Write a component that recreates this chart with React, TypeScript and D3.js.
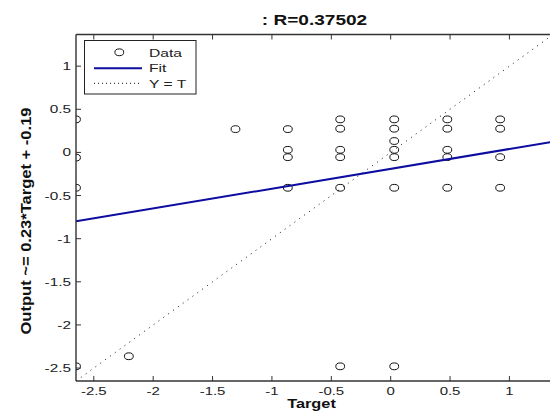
import React from "react";
import * as d3 from "d3";

const targets = [
  -2.65, -2.65, -2.65, -2.65,
  -2.205,
  -1.307,
  -0.866, -0.866, -0.866, -0.866,
  -0.425, -0.425, -0.425, -0.425, -0.425, -0.425,
  0.03, 0.03, 0.03, 0.03, 0.03, 0.03, 0.03,
  0.477, 0.477, 0.477, 0.477, 0.477,
  0.922, 0.922, 0.922, 0.922,
];
const outputs = [
  0.383, -0.06, -0.41, -2.48,
  -2.363,
  0.27,
  0.27, 0.03, -0.055, -0.41,
  0.383, 0.275, 0.03, -0.055, -0.41, -2.48,
  0.383, 0.275, 0.132, 0.03, -0.055, -0.41, -2.48,
  0.383, 0.275, 0.03, -0.055, -0.41,
  0.383, 0.275, -0.055, -0.41,
];
const fitSlope = 0.23;
const fitIntercept = -0.19;
const axisLimits = [-2.65, 1.367];
const xTicks = [-2.5, -2, -1.5, -1, -0.5, 0, 0.5, 1];
const yTicks = [-2.5, -2, -1.5, -1, -0.5, 0, 0.5, 1];
const titleText = ": R=0.37502";
const xLabel = "Target";
const yLabel = "Output ~= 0.23*Target + -0.19";
const legendItems = ["Data", "Fit", "Y = T"];

const W = 550;
const H = 416;
const L = 76;
const R = 553;
const T = 34.5;
const B = 381;
const SX = 1.36;

function SText(props: {
  x: number;
  y: number;
  anchor?: string;
  size: number;
  weight?: string;
  fill?: string;
  children: React.ReactNode;
}) {
  const { x, y, anchor = "start", size, weight = "normal", fill = "#222", children } = props;
  return (
    <text
      transform={`translate(${x},${y}) scale(${SX},1)`}
      textAnchor={anchor}
      fontSize={size}
      fontWeight={weight}
      fill={fill}
    >
      {children}
    </text>
  );
}

export default function App() {
  const x = d3.scaleLinear().domain(axisLimits).range([L, R]);
  const y = d3.scaleLinear().domain(axisLimits).range([B, T]);
  const fitLine = d3.line<number>().x((t) => x(t)).y((t) => y(fitSlope * t + fitIntercept));
  const idLine = d3.line<number>().x((t) => x(t)).y((t) => y(t));
  const font = "Arial, 'Liberation Sans', Helvetica, sans-serif";
  const axisCol = "#333";
  const blue = "#0c0ca0";
  return (
    <div style={{ position: "fixed", left: 0, top: 0, width: W, height: H, background: "#fff" }}>
      <svg width={W} height={H} style={{ display: "block" }} fontFamily={font}>
        <rect x={0} y={0} width={W} height={H} fill="#fff" />
        <defs>
          <clipPath id="plot">
            <rect x={L} y={T} width={R - L} height={B - T} />
          </clipPath>
        </defs>
        <g clipPath="url(#plot)">
          <path d={idLine(axisLimits) || ""} stroke="#111" strokeWidth={1} strokeDasharray="1,5" fill="none" />
          {targets.map((t, i) => (
            <ellipse key={i} cx={x(t)} cy={y(outputs[i])} rx={4.4} ry={3.4} fill="none" stroke="#111" strokeWidth={1} />
          ))}
          <path d={fitLine(axisLimits) || ""} stroke={blue} strokeWidth={2} fill="none" />
        </g>
        <line x1={L} x2={L} y1={T} y2={B} stroke={axisCol} strokeWidth={1.4} />
        <line x1={L} x2={R} y1={B} y2={B} stroke={axisCol} strokeWidth={1.3} />
        <line x1={L} x2={R} y1={T} y2={T} stroke={axisCol} strokeWidth={1.3} />
        {xTicks.map((v) => (
          <g key={"xt" + v}>
            <line x1={x(v)} x2={x(v)} y1={B} y2={B - 5} stroke={axisCol} />
            <line x1={x(v)} x2={x(v)} y1={T} y2={T + 5} stroke={axisCol} />
            <SText x={x(v)} y={B + 13.5} anchor="middle" size={11}>
              {String(v)}
            </SText>
          </g>
        ))}
        {yTicks.map((v) => (
          <g key={"yt" + v}>
            <line x1={L} x2={L + 5} y1={y(v)} y2={y(v)} stroke={axisCol} />
            <SText x={L - 5} y={y(v) + 4} anchor="end" size={11.3}>
              {String(v)}
            </SText>
          </g>
        ))}
        <SText x={(L + R) / 2} y={25} anchor="middle" size={14} weight="bold" fill="#111">
          {titleText}
        </SText>
        <SText x={(L + R) / 2 - 3} y={408} anchor="middle" size={12} weight="bold" fill="#111">
          {xLabel}
        </SText>
        <text
          transform={`translate(31, 221) rotate(-90)`}
          textAnchor="middle"
          fontSize={14}
          fontWeight="bold"
          fill="#111"
          textLength={227}
          lengthAdjust="spacingAndGlyphs"
        >
          {yLabel}
        </text>
        <g>
          <rect x={84.5} y={40.5} width={111.5} height={53.5} fill="#fff" stroke="#222" strokeWidth={1} />
          <ellipse cx={119.3} cy={52.3} rx={4.4} ry={3.4} fill="none" stroke="#111" />
          <line x1={94} x2={142} y1={68.3} y2={68.3} stroke={blue} strokeWidth={2} />
          <line x1={94} x2={142} y1={83.3} y2={83.3} stroke="#111" strokeWidth={1} strokeDasharray="1,3" />
          {legendItems.map((s, i) => (
            <SText key={s} x={149} y={56.5 + i * 15.5} size={11.5}>
              {s}
            </SText>
          ))}
        </g>
      </svg>
    </div>
  );
}
